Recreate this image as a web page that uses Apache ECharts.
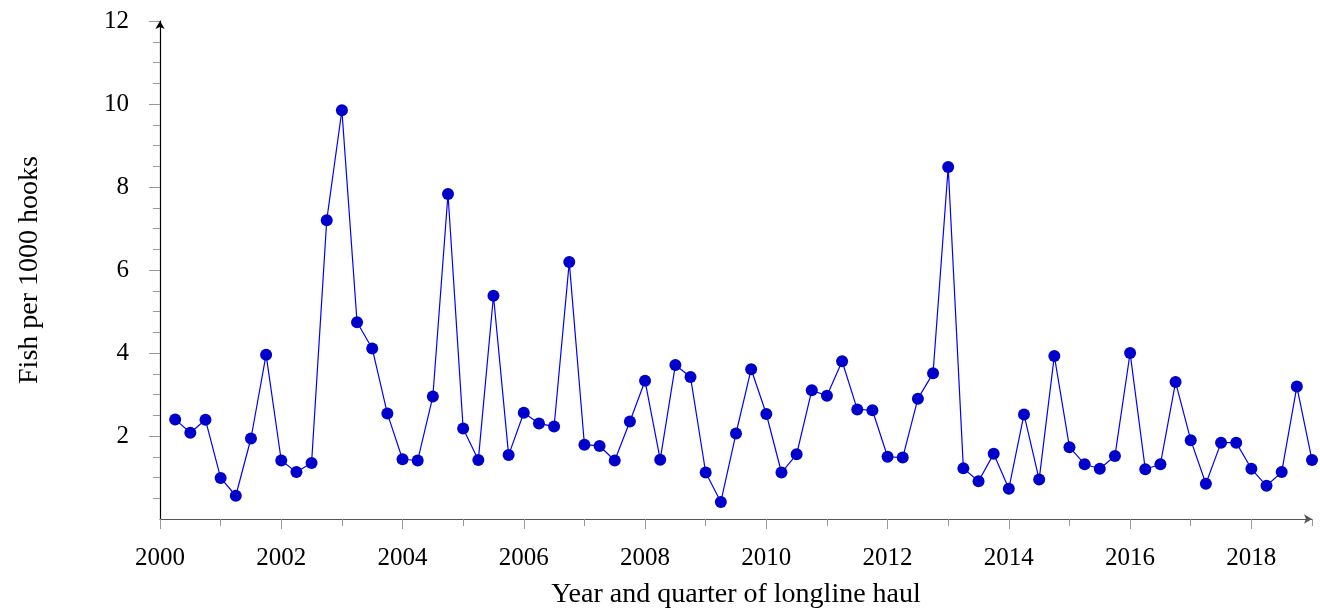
<!DOCTYPE html>
<html>
<head>
<meta charset="utf-8">
<script src="https://cdn.jsdelivr.net/npm/echarts@6/dist/echarts.min.js"></script>
<style>
html,body{margin:0;padding:0;background:#fff;}
#chart{width:1320px;height:611px;}
</style>
</head>
<body>
<div id="chart"></div>
<script>
// Quarterly observations from 2000 Q2 (2000.25) to 2019 Q1 (2019.0)
const firstQuarter = 2000.25;
const fishPer1000Hooks = [
  2.40,2.08,2.39,0.99,0.56,1.94,3.96,1.41,1.13,1.35,
  7.20,9.85,4.74,4.11,2.54,1.44,1.41,2.95,7.83,2.18,
  1.42,5.38,1.54,2.56,2.30,2.23,6.19,1.79,1.76,1.41,
  2.35,3.33,1.43,3.71,3.42,1.12,0.41,2.06,3.61,2.53,
  1.12,1.56,3.10,2.97,3.80,2.64,2.62,1.50,1.48,2.90,
  3.51,8.48,1.22,0.91,1.57,0.73,2.52,0.95,3.93,1.73,
  1.32,1.21,1.52,4.00,1.20,1.32,3.30,1.90,0.85,1.84,
  1.84,1.21,0.80,1.13,3.19,1.42
];
const xMajorTicks = [2000,2002,2004,2006,2008,2010,2012,2014,2016,2018];
const xMinorTicks = [2001,2003,2005,2007,2009,2011,2013,2015,2017,2019];
const yMajorTicks = [2,4,6,8,10,12];
const yMinorTicks = [0.5,1,1.5,2.5,3,3.5,4.5,5,5.5,6.5,7,7.5,8.5,9,9.5,10.5,11,11.5];
const xTitle = 'Year and quarter of longline haul';
const yTitle = 'Fish per 1000 hooks';

const points = fishPer1000Hooks.map((v, i) => [firstQuarter + i * 0.25, v]);

const FONT = 'Liberation Serif';
const chart = echarts.init(document.getElementById('chart'), null, {renderer: 'canvas'});
chart.setOption({
  animation: false,
  backgroundColor: '#fff',
  grid: {left: 160, right: 8, top: 21, bottom: 92, containLabel: false, outerBoundsMode: 'none'},
  xAxis: [
    {
      type: 'value', position: 'bottom', min: 2000, max: 2019, interval: 1,
      name: xTitle, nameLocation: 'middle', nameGap: 62,
      nameTextStyle: {fontFamily: FONT, fontSize: 28, color: '#000'},
      axisLine: {show: true, lineStyle: {color: '#555', width: 1.2}, symbol: ['none', 'arrow'], symbolSize: [7, 8]},
      axisTick: {show: true, customValues: xMajorTicks, length: 10, lineStyle: {color: '#999', width: 1}},
      axisLabel: {show: true, customValues: xMajorTicks, margin: 27, fontFamily: FONT, fontSize: 25, color: '#000',
                  formatter: v => String(v)},
      splitLine: {show: false}
    },
    {
      type: 'value', position: 'bottom', min: 2000, max: 2019, interval: 1,
      axisLine: {show: false},
      axisTick: {show: true, customValues: xMinorTicks, length: 7, lineStyle: {color: '#999', width: 1}},
      axisLabel: {show: false},
      splitLine: {show: false}
    }
  ],
  yAxis: [
    {
      type: 'value', position: 'left', min: 0, max: 12, interval: 2,
      name: yTitle, nameLocation: 'middle', nameGap: 116, nameRotate: 90,
      nameTextStyle: {fontFamily: FONT, fontSize: 28, color: '#000'},
      axisLine: {show: true, lineStyle: {color: '#000', width: 1.2}, symbol: ['none', 'arrow'], symbolSize: [7, 8]},
      axisTick: {show: true, customValues: yMajorTicks, length: 11, lineStyle: {color: '#999', width: 1}},
      axisLabel: {show: true, customValues: yMajorTicks, margin: 31, fontFamily: FONT, fontSize: 25, color: '#000'},
      splitLine: {show: false}
    },
    {
      type: 'value', position: 'left', min: 0, max: 12, interval: 2,
      axisLine: {show: false},
      axisTick: {show: true, customValues: yMinorTicks, length: 7, lineStyle: {color: '#999', width: 1}},
      axisLabel: {show: false},
      splitLine: {show: false}
    }
  ],
  series: [{
    type: 'line',
    xAxisIndex: 0, yAxisIndex: 0,
    data: points,
    symbol: 'circle', symbolSize: 12,
    showAllSymbol: true,
    lineStyle: {color: '#0000ff', width: 1.2},
    itemStyle: {color: '#0000cc', borderWidth: 0},
    z: 5
  }]
});
</script>
</body>
</html>
